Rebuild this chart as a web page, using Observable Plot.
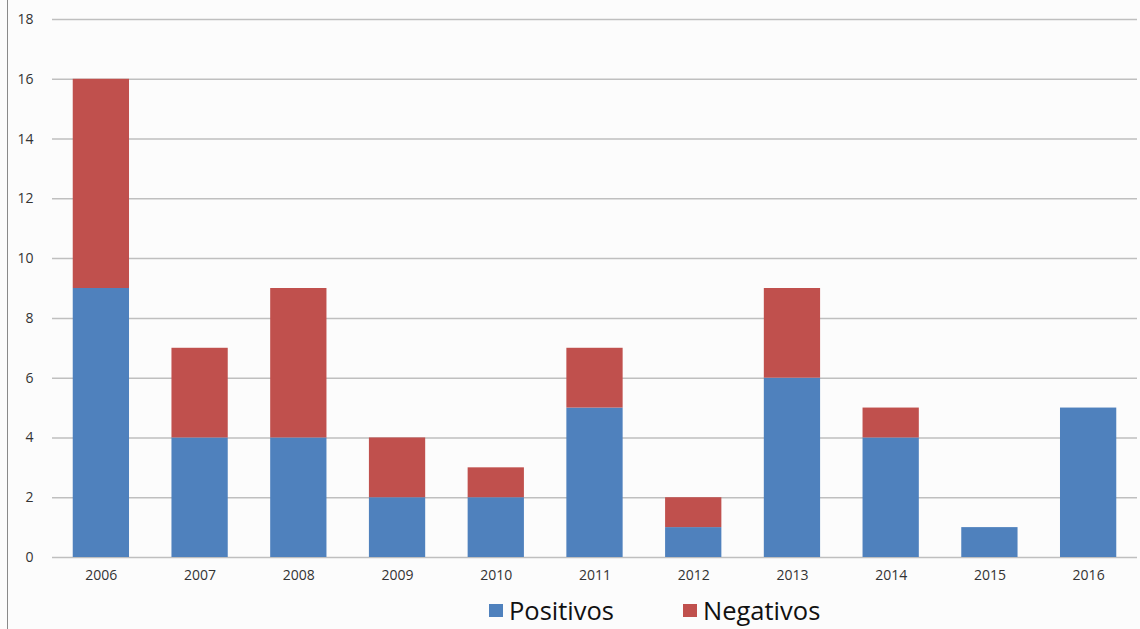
<!DOCTYPE html>
<html>
<head>
<meta charset="utf-8">
<script src="https://cdn.jsdelivr.net/npm/d3@7"></script>
<script src="https://cdn.jsdelivr.net/npm/@observablehq/plot@0.6"></script>
<style>
  html, body { margin: 0; padding: 0; background: #fcfcfc; }
  #wrap { position: relative; width: 1140px; height: 629px; overflow: hidden; font-family: "Open Sans", sans-serif; }
  #border { position: absolute; left: 7px; top: 0; width: 1px; height: 629px; background: #8a8a8a; }
  #legend { position: absolute; top: 593px; left: 0; width: 1140px; height: 36px; font-size: 25.5px; color: #111; }
  .item { position: absolute; display: flex; align-items: center; gap: 6px; }
  .sw { width: 14px; height: 13px; display: inline-block; }
</style>
</head>
<body>
<div id="wrap"><div id="border"></div><div id="chart"></div><div id="legend"></div></div>
<script>
const years = ["2006","2007","2008","2009","2010","2011","2012","2013","2014","2015","2016"];
const positivos = [9, 4, 4, 2, 2, 5, 1, 6, 4, 1, 5];
const negativos = [7, 3, 5, 2, 1, 2, 1, 3, 1, 0, 0];
const seriesNames = ["Positivos", "Negativos"];
const colors = ["#4f81bd", "#c0504d"];
const yTicks = [0, 2, 4, 6, 8, 10, 12, 14, 16, 18];

const data = [];
years.forEach((y, i) => {
  data.push({year: y, serie: "Positivos", value: positivos[i]});
  data.push({year: y, serie: "Negativos", value: negativos[i]});
});

const chart = Plot.plot({
  width: 1140,
  height: 595,
  marginTop: 19,
  marginBottom: 38,
  marginLeft: 52,
  marginRight: 3,
  style: {background: "transparent", fontFamily: "Open Sans, sans-serif", fontSize: "14px", color: "#333"},
  x: {domain: years, label: null, tickSize: 0, tickPadding: 13, paddingInner: 0.43, paddingOuter: 0.21, round: false},
  y: {domain: [0, 18], ticks: yTicks, label: null, tickSize: 0, tickPadding: 19},
  color: {domain: seriesNames, range: colors},
  marks: [
    Plot.gridY(yTicks, {stroke: "#bfbfbf", strokeOpacity: 1, strokeWidth: 1.5}),
    Plot.barY(data, Plot.stackY({x: "year", y: "value", fill: "serie", order: seriesNames})),
  ]
});
document.getElementById("chart").appendChild(chart);

const legend = document.getElementById("legend");
const legendLeft = [489, 683];
seriesNames.forEach((s, i) => {
  const it = document.createElement("div");
  it.className = "item";
  it.style.left = legendLeft[i] + "px";
  it.innerHTML = `<span class="sw" style="background:${colors[i]}"></span><span>${s}</span>`;
  legend.appendChild(it);
});
</script>
</body>
</html>
